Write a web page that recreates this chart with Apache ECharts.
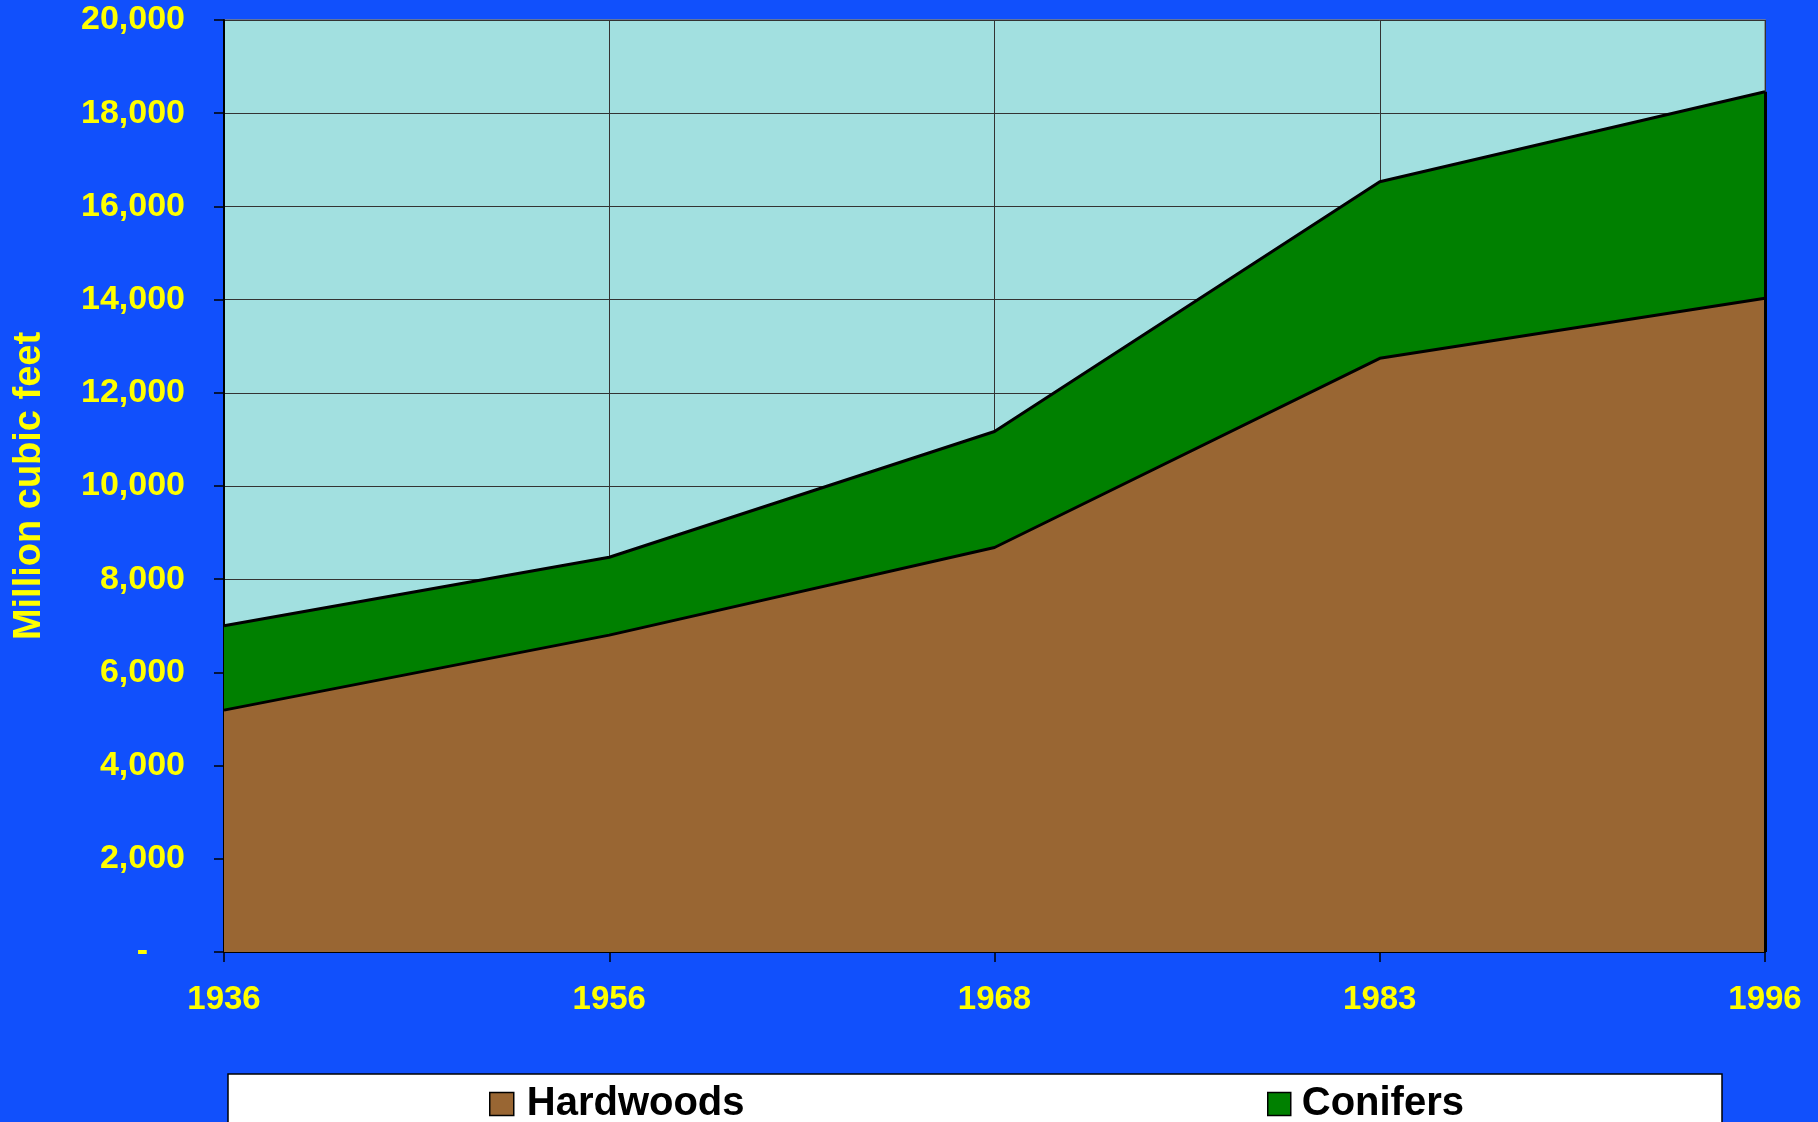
<!DOCTYPE html>
<html>
<head>
<meta charset="utf-8">
<script src="https://cdn.jsdelivr.net/npm/echarts@6/dist/echarts.min.js"></script>
<style>
html,body{margin:0;padding:0;background:#1150FC;}
#chart{width:1818px;height:1122px;}
</style>
</head>
<body>
<div id="chart"></div>
<script>
var years = ['1936', '1956', '1968', '1983', '1996'];
var hardwoods = [5190, 6800, 8680, 12740, 14030];
var conifers = [1810, 1670, 2490, 3790, 4430];
var yTicks = [0, 2000, 4000, 6000, 8000, 10000, 12000, 14000, 16000, 18000, 20000];

var FONT = "'Liberation Sans', Arial, sans-serif";
var lastIdx = years.length - 1;
var lastTotal = hardwoods[lastIdx] + conifers[lastIdx];

var chart = echarts.init(document.getElementById('chart'));
chart.setOption({
  backgroundColor: '#1150FC',
  animation: false,
  grid: {
    left: 224, right: 53, top: 20, bottom: 170,
    show: true, backgroundColor: '#A2E0E0', borderColor: '#808080', borderWidth: 1.5
  },
  graphic: [{
    type: 'rect', z: 0,
    shape: { x: 228, y: 1074, width: 1494, height: 80 },
    style: { fill: '#ffffff', stroke: '#000000', lineWidth: 1.5 }
  }],
  legend: [{
    z: 10, left: 484, top: 1079, icon: 'rect', itemWidth: 24, itemHeight: 23,
    data: ['Hardwoods'],
    itemStyle: { borderColor: '#000', borderWidth: 1.5 },
    textStyle: { fontFamily: FONT, fontWeight: 'bold', fontSize: 40, color: '#000', padding: [0, 0, 0, 8] }
  }, {
    z: 10, left: 1262, top: 1079, icon: 'rect', itemWidth: 23, itemHeight: 23,
    data: ['Conifers'],
    itemStyle: { borderColor: '#000', borderWidth: 1.5 },
    textStyle: { fontFamily: FONT, fontWeight: 'bold', fontSize: 40, color: '#000', padding: [0, 0, 0, 6] }
  }],
  xAxis: {
    type: 'category', data: years, boundaryGap: false,
    axisLine: { show: true, lineStyle: { color: '#000', width: 2 } },
    axisTick: { show: true, length: 10, inside: false, lineStyle: { color: '#000', width: 1.5 } },
    splitLine: { show: true, lineStyle: { color: '#333', width: 1 } },
    axisLabel: { color: '#FFFF00', fontFamily: FONT, fontWeight: 'bold', fontSize: 33, margin: 31 }
  },
  yAxis: {
    type: 'value', min: yTicks[0], max: yTicks[yTicks.length - 1], interval: yTicks[1] - yTicks[0],
    name: 'Million cubic feet', nameLocation: 'middle', nameRotate: 90, nameGap: 175,
    nameTextStyle: { color: '#FFFF00', fontFamily: FONT, fontWeight: 'bold', fontSize: 38 },
    axisLine: { show: true, lineStyle: { color: '#000', width: 2 } },
    axisTick: { show: true, length: 10, lineStyle: { color: '#000', width: 1.5 } },
    splitLine: { show: true, lineStyle: { color: '#333', width: 1 } },
    axisLabel: {
      color: '#FFFF00', fontFamily: FONT, fontWeight: 'bold', fontSize: 34, margin: 39,
      formatter: function (v) {
        return v === 0 ? '{d|-}' : v.toLocaleString('en-US');
      },
      rich: { d: { color: '#FFFF00', fontFamily: FONT, fontWeight: 'bold', fontSize: 34, padding: [0, 37, 0, 0] } }
    }
  },
  series: [{
    name: 'Hardwoods', type: 'line', stack: 'total', data: hardwoods,
    symbol: 'none', showSymbol: false, z: 3,
    itemStyle: { color: '#996633' },
    lineStyle: { color: '#000', width: 3 },
    areaStyle: { color: '#996633', opacity: 1 }
  }, {
    name: 'Conifers', type: 'line', stack: 'total', data: conifers,
    symbol: 'none', showSymbol: false, z: 2,
    itemStyle: { color: '#008000' },
    lineStyle: { color: '#000', width: 3 },
    areaStyle: { color: '#008000', opacity: 1 },
    markLine: {
      silent: true, symbol: 'none', label: { show: false },
      lineStyle: { color: '#000', width: 3, type: 'solid' },
      data: [[{ coord: [years[lastIdx], 0] }, { coord: [years[lastIdx], lastTotal] }]]
    }
  }]
});
</script>
</body>
</html>
